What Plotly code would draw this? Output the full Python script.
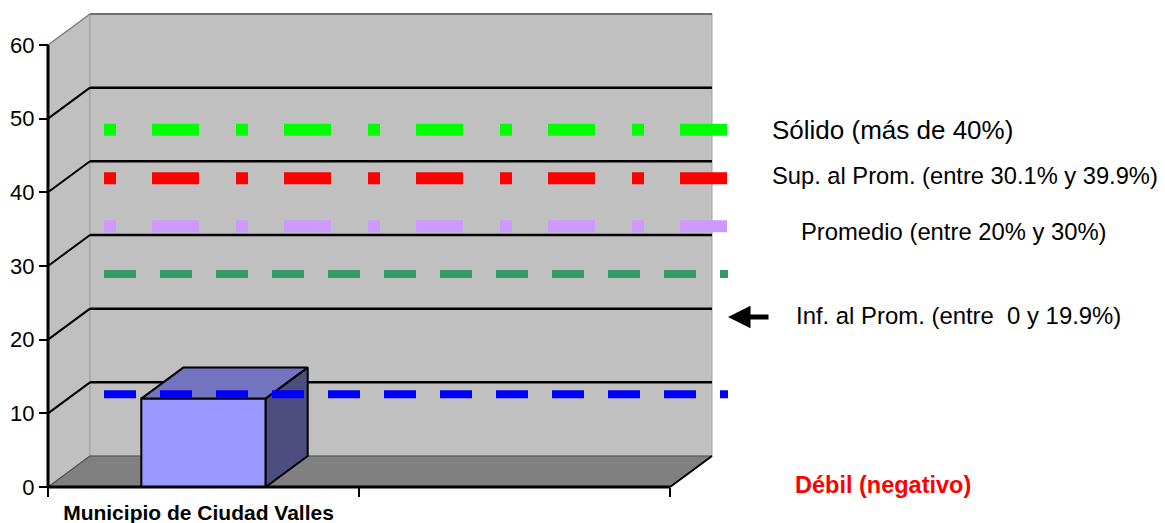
import plotly.graph_objects as go

# ---------------- data ----------------
categorias = ["Municipio de Ciudad Valles", ""]
valores = [12, None]
y_ticks = [0, 10, 20, 30, 40, 50, 60]

niveles_valores = [48.5, 41.9, 35.4, 28.9, 12.6]
niveles_colores = ["#00FF00", "#FF0000", "#CC99FF", "#339966", "#0000FF"]

etiquetas = [
    "Sólido (más de 40%)",
    "Sup. al Prom. (entre 30.1% y 39.9%)",
    "Promedio (entre 20% y 30%)",
    "Inf. al Prom. (entre\u00a0 0 y 19.9%)",
]
etiqueta_debil = "Débil (negativo)"

# ---------------- geometry / style ----------------
W, H = 1165, 523
X0_PX = 48          # pixel of front axis origin (x)
Y0_PX = 487         # pixel of value 0 on front axis
PX_PER_CAT = 311.0
PX_PER_UNIT = 7.367
DX = 42 / PX_PER_CAT        # 3-D depth offset in x units
DY = 31 / PX_PER_UNIT       # 3-D depth offset in y units
NCAT = len(categorias)
YMAX = max(y_ticks)
BAR_W = 0.4
LABEL_SHIFT = -5 / PX_PER_CAT
FONT = "Liberation Sans, Arial, sans-serif"

xr = [-X0_PX / PX_PER_CAT, (W - X0_PX) / PX_PER_CAT]
yr = [-(H - Y0_PX) / PX_PER_UNIT, Y0_PX / PX_PER_UNIT]


def px_x(p):
    return p / W


def px_y(p):
    return 1 - p / H


fig = go.Figure()
shapes = []

# left wall
shapes.append(dict(type="path", xref="x", yref="y", layer="below",
                   path=f"M 0,0 L 0,{YMAX} L {DX},{YMAX+DY} L {DX},{DY} Z",
                   fillcolor="#C0C0C0", line=dict(color="#A0A0A0", width=1)))
# back wall
shapes.append(dict(type="rect", xref="x", yref="y", layer="below",
                   x0=DX, x1=NCAT + DX, y0=DY, y1=YMAX + DY,
                   fillcolor="#C0C0C0", line=dict(color="#A0A0A0", width=1)))
# floor
shapes.append(dict(type="path", xref="x", yref="y", layer="below",
                   path=f"M 0,0 L {NCAT},0 L {NCAT+DX},{DY} L {DX},{DY} Z",
                   fillcolor="#808080", line=dict(width=0)))
# gridlines
for v in y_ticks[1:-1]:
    shapes.append(dict(type="line", xref="x", yref="y", layer="below",
                       x0=DX, x1=NCAT + DX, y0=v + DY, y1=v + DY,
                       line=dict(color="black", width=2.5)))
    shapes.append(dict(type="line", xref="x", yref="y", layer="below",
                       x0=0, x1=DX, y0=v, y1=v + DY,
                       line=dict(color="black", width=2)))
# top edges
shapes.append(dict(type="line", xref="x", yref="y", layer="below",
                   x0=DX, x1=NCAT + DX, y0=YMAX + DY, y1=YMAX + DY,
                   line=dict(color="#707070", width=2)))
shapes.append(dict(type="line", xref="x", yref="y", layer="below",
                   x0=0, x1=DX, y0=YMAX, y1=YMAX + DY,
                   line=dict(color="#808080", width=1.5)))
# floor edges
shapes.append(dict(type="line", xref="x", yref="y", layer="below",
                   x0=DX, x1=NCAT + DX, y0=DY, y1=DY,
                   line=dict(color="#505050", width=1.2)))
shapes.append(dict(type="line", xref="x", yref="y", layer="below",
                   x0=0, x1=DX, y0=0, y1=DY,
                   line=dict(color="#505050", width=1.2)))
shapes.append(dict(type="line", xref="x", yref="y", layer="below",
                   x0=NCAT, x1=NCAT + DX, y0=0, y1=DY,
                   line=dict(color="black", width=2)))
# front axis lines
shapes.append(dict(type="line", xref="x", yref="y", layer="above",
                   x0=0, x1=NCAT, y0=0, y1=0, line=dict(color="black", width=3)))
shapes.append(dict(type="line", xref="x", yref="y", layer="above",
                   x0=0, x1=0, y0=0, y1=YMAX, line=dict(color="black", width=3)))

# ---------------- bar (3-D look) ----------------
bx = [i + 0.5 for i, v in enumerate(valores) if v is not None]
by = [v for v in valores if v is not None]
fig.add_trace(go.Bar(x=bx, y=by, width=BAR_W,
                     marker=dict(color="#9999FF", line=dict(color="black", width=2)),
                     hoverinfo="skip"))
for xc, v in zip(bx, by):
    xl, xrt = xc - BAR_W / 2, xc + BAR_W / 2
    fig.add_trace(go.Scatter(x=[xl, xl + DX, xrt + DX, xrt, xl],
                             y=[v, v + DY, v + DY, v, v],
                             fill="toself", fillcolor="#7373BF", mode="lines",
                             line=dict(color="black", width=2), hoverinfo="skip"))
    fig.add_trace(go.Scatter(x=[xrt, xrt, xrt + DX, xrt + DX, xrt],
                             y=[0, v, v + DY, DY, 0],
                             fill="toself", fillcolor="#4D4D80", mode="lines",
                             line=dict(color="black", width=2), hoverinfo="skip"))

# ---------------- dashed reference lines ----------------
XS = (104 - X0_PX) / PX_PER_CAT
XE = (728 - X0_PX) / PX_PER_CAT
line_w = [12, 12, 12, 8, 8]
line_dash = ["12px,36px,47px,37px"] * 3 + ["32px,24px"] * 2
for v, c, w_, d in zip(niveles_valores, niveles_colores, line_w, line_dash):
    fig.add_trace(go.Scatter(x=[XS, XE], y=[v, v], mode="lines",
                             line=dict(color=c, width=w_, dash=d), hoverinfo="skip"))

# ---------------- text annotations ----------------
ann = []
label_pos = [(770, 130, 26), (770, 176, 23.7), (799, 231, 23.8), (794, 315, 23.9)]
for t, (x, y, s) in zip(etiquetas, label_pos):
    ann.append(dict(text=t, xref="paper", yref="paper", x=px_x(x), y=px_y(y),
                    xanchor="left", yanchor="middle", showarrow=False,
                    font=dict(family=FONT, size=s, color="black")))
ann.append(dict(text=f"<b>{etiqueta_debil}</b>", xref="paper", yref="paper",
                x=px_x(883), y=px_y(485), xanchor="center", yanchor="middle",
                showarrow=False, font=dict(family=FONT, size=23.5, color="#FF0000")))
# arrow
ann.append(dict(text="", xref="x", yref="y", x=(728 - X0_PX) / PX_PER_CAT,
                y=(Y0_PX - 317) / PX_PER_UNIT, ax=42, ay=0, axref="pixel", ayref="pixel",
                showarrow=True, arrowhead=2, arrowsize=0.9, arrowwidth=5,
                arrowcolor="black", standoff=0))

fig.update_layout(
    width=W, height=H,
    margin=dict(l=0, r=0, t=0, b=0, pad=0),
    paper_bgcolor="white", plot_bgcolor="white",
    showlegend=False, hovermode=False,
    shapes=shapes, annotations=ann,
    xaxis=dict(range=xr, type="linear", anchor="free", position=(H - Y0_PX) / H,
               showgrid=False, zeroline=False, showline=False, automargin=False,
               tickmode="array", tickvals=[i + 0.5 + LABEL_SHIFT for i in range(NCAT)],
               ticktext=[f"<b>{c}</b>" if c else "" for c in categorias],
               ticks="", ticklabelstandoff=11,
               tickfont=dict(family=FONT, size=21, color="black"),
               minor=dict(tickmode="array", tickvals=list(range(NCAT + 1)),
                          ticks="outside", ticklen=9, tickwidth=2, tickcolor="black",
                          showgrid=False)),
    yaxis=dict(range=yr, anchor="free", position=X0_PX / W,
               showgrid=False, zeroline=False, showline=False, automargin=False,
               tickmode="array", tickvals=y_ticks, ticks="outside", ticklen=9,
               tickwidth=2, tickcolor="black",
               tickfont=dict(family=FONT, size=22, color="black")),
)

fig.write_html("out.html", config={"displayModeBar": False, "staticPlot": True},
               post_script="document.body.style.margin='0';document.body.style.overflow='hidden';")
